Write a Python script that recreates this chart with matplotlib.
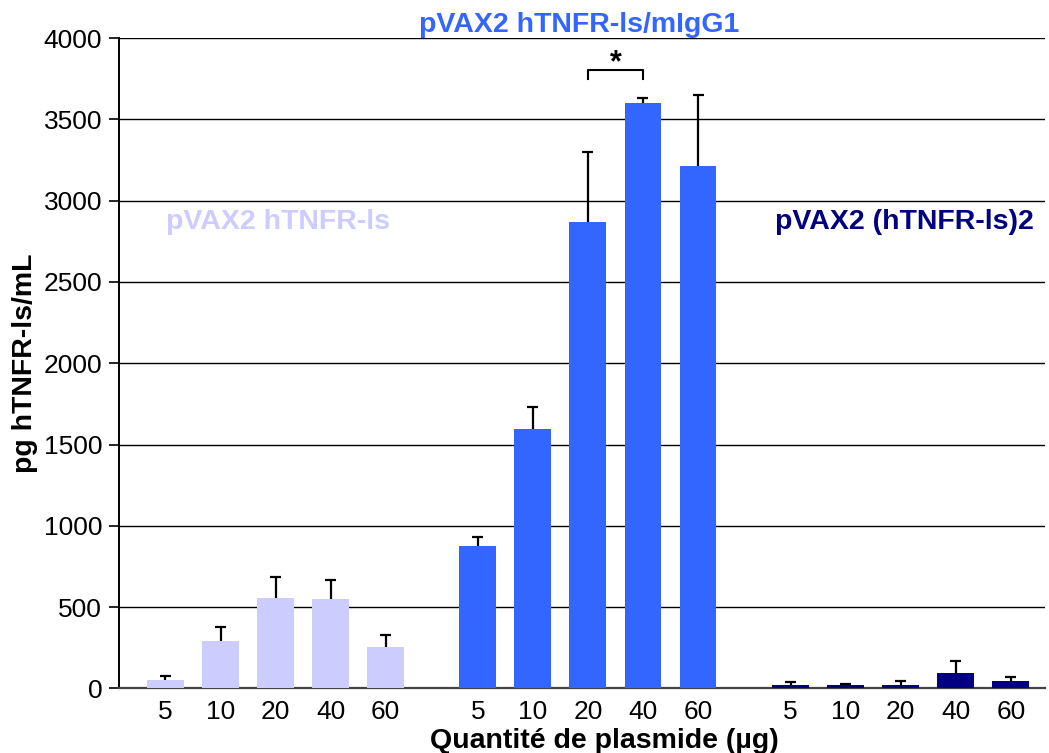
import numpy as np
import matplotlib
matplotlib.use('Agg')
import matplotlib.pyplot as plt

plt.rcParams['font.family'] = ['Liberation Sans', 'DejaVu Sans']

# data
doses = ['5', '10', '20', '40', '60']
construct_names = ['pVAX2 hTNFR-ls', 'pVAX2 hTNFR-ls/mIgG1', 'pVAX2 (hTNFR-ls)2']
vals_ls = [55, 289, 554, 548, 258]
err_ls = [20, 88, 133, 119, 72]
vals_igg = [876, 1594, 2870, 3600, 3212]
err_igg = [57, 139, 430, 32, 437]
vals_ls2 = [24, 24, 24, 98, 48]
err_ls2 = [18, 5, 22, 70, 22]

colors = ['#CCCCFF', '#3366FF', '#000080']

fig = plt.figure(figsize=(10.49, 7.53), dpi=100)
ax = fig.add_axes([0.1134, 0.0857, 0.9962 - 0.1134, 0.9495 - 0.0857])

group_start = [0, 5.673, 11.355]
series = [(vals_ls, err_ls), (vals_igg, err_igg), (vals_ls2, err_ls2)]
xpos_all = []
for g, (vals, errs) in enumerate(series):
    x = group_start[g] + np.arange(len(doses))
    xpos_all.extend(x)
    ax.bar(x, vals, width=0.67, color=colors[g], zorder=3)
    tops = np.array(vals) + np.array(errs)
    # only the upper half of the error bar, cap at top
    ax.vlines(x, vals, tops, color='black', lw=1.6, zorder=4)
    ax.hlines(tops, x - 0.1, x + 0.1, color='black', lw=1.6, zorder=4)

ax.set_xlim(-0.845, 15.975)
ax.set_ylim(0, 4000)
ax.set_yticks(np.arange(0, 4001, 500))
ax.tick_params(axis='y', labelsize=19, length=7, width=1.2, direction='out', pad=5)
ax.set_xticks(xpos_all)
ax.set_xticklabels(doses * 3)
ax.tick_params(axis='x', labelsize=19, length=0, pad=8)
ax.grid(axis='y', color='black', linewidth=1.0, zorder=0)
ax.spines['top'].set_visible(False)
ax.spines['right'].set_visible(False)
ax.spines['left'].set_linewidth(1.4)
ax.spines['bottom'].set_color('#444444')
ax.spines['bottom'].set_linewidth(1.6)
ax.axhline(4000, color='#888888', linewidth=1.2, zorder=1)

ax.set_ylabel('pg hTNFR-ls/mL', fontsize=20.5, fontweight='bold', labelpad=4)
ax.set_xlabel('Quantité de plasmide (µg)', fontsize=20.5, fontweight='bold', va='center')
ax.xaxis.set_label_coords(0.524, -0.081)

# group labels
ax.text(2.05, 2870, construct_names[0], color=colors[0], fontsize=20.5,
        fontweight='bold', ha='center', va='center')
ax.text(7.51, 4083, construct_names[1], color=colors[1], fontsize=20.5,
        fontweight='bold', ha='center', va='center', clip_on=False)
ax.text(13.43, 2870, construct_names[2], color=colors[2], fontsize=20.5,
        fontweight='bold', ha='center', va='center')

# significance bracket between 20 and 40 ug
x1, x2 = group_start[1] + 2, group_start[1] + 3
ax.plot([x1, x1, x2, x2], [3745, 3806, 3806, 3745], color='black', lw=1.5, zorder=5)
ax.text((x1 + x2) / 2, 3845, '*', fontsize=22, fontweight='bold', ha='center', va='center')

fig.savefig('out.png', dpi=100)
